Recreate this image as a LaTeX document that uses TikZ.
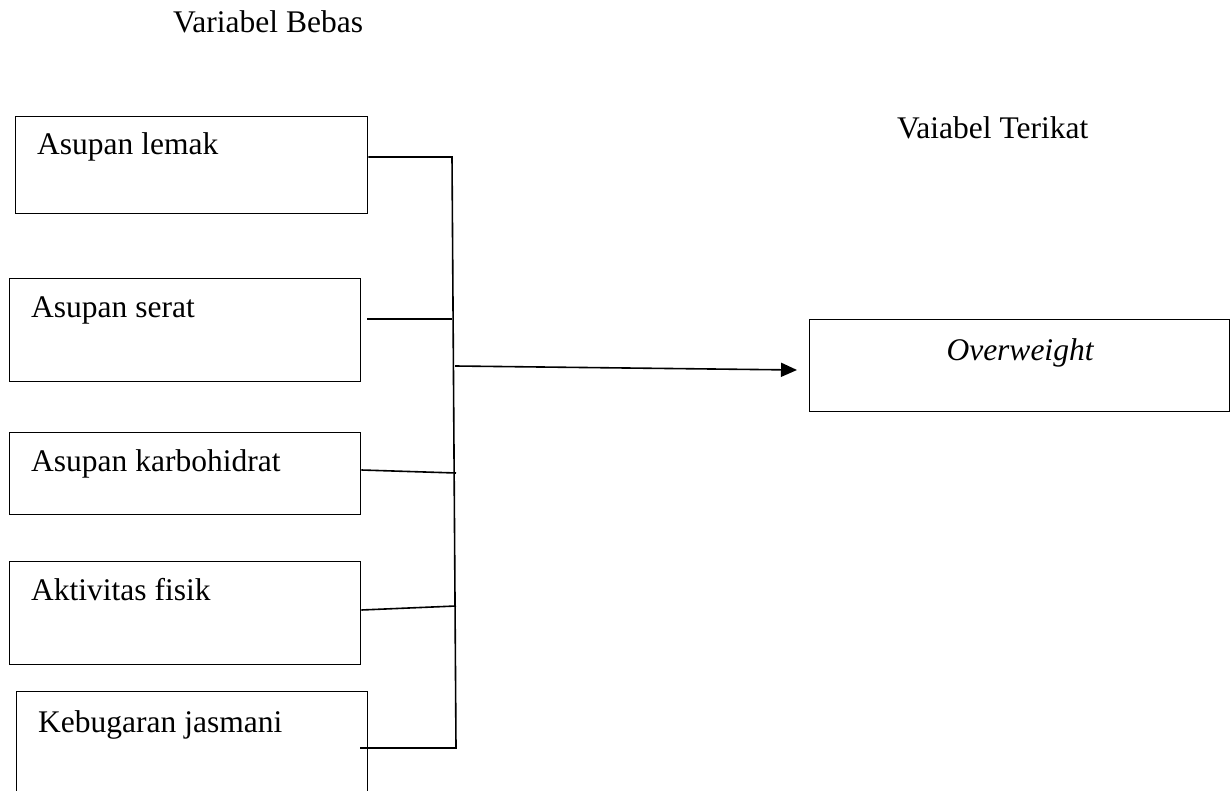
\documentclass[tikz,border=0pt]{standalone}
\usepackage{fontspec}
\setmainfont{Liberation Serif}
\usetikzlibrary{arrows.meta}
\begin{document}
\begin{tikzpicture}[x=1pt,y=-1pt,
  box/.style={draw=black, line width=1.4pt, inner sep=0pt, anchor=north west},
  lbl/.style={anchor=base west, inner sep=0pt, font=\fontsize{31.5}{38}\selectfont},
  conn/.style={draw=black, line width=1.6pt}]
\useasboundingbox (0,0) rectangle (1231,791);
% titles
\node[lbl] (t1) at (173,33) {Variabel Bebas};
\node[lbl] (t2) at (897,139) {Vaiabel Terikat};
% boxes
\node[box, minimum width=352pt, minimum height=97pt] (b1) at (15,116) {};
\node[box, minimum width=351pt, minimum height=103pt] (b2) at (9,278) {};
\node[box, minimum width=351pt, minimum height=82pt] (b3) at (9,432) {};
\node[box, minimum width=351pt, minimum height=103pt] (b4) at (9,561) {};
\node[box, minimum width=351pt, minimum height=120pt] (b5) at (16,691) {};
\node[box, minimum width=420pt, minimum height=92pt] (ow) at (809,319) {};
% labels
\node[lbl] (l1) at (37,155) {Asupan lemak};
\node[lbl] (l2) at (31,318) {Asupan serat};
\node[lbl] (l3) at (31,471) {Asupan karbohidrat};
\node[lbl] (l4) at (31,600) {Aktivitas fisik};
\node[lbl] (l5) at (38,732) {Kebugaran jasmani};
\node[lbl, anchor=base] (lo) at (1020,360) {\itshape Overweight};
% bus coordinates
\coordinate (j1) at (452,157);
\coordinate (j2) at (452,319);
\coordinate (ja) at (455,366);
\coordinate (j3) at (456,473);
\coordinate (j4) at (456,606);
\coordinate (j5) at (456,748);
\coordinate (s2) at (367,319);
\coordinate (s5) at (360,748);
\coordinate (tip) at (797,370);
% connectors
\draw[conn] (b1.east |- j1) -- (j1) -- (j5) -- (s5);
\draw[conn] (s2) -- (j2);
\draw[conn] (b3.east |- 0,470) -- (j3);
\draw[conn] (b4.east |- 0,610) -- (j4);
\draw[conn, -{Triangle[length=16pt,width=14pt]}] (ja) -- (tip);
\end{tikzpicture}
\end{document}
